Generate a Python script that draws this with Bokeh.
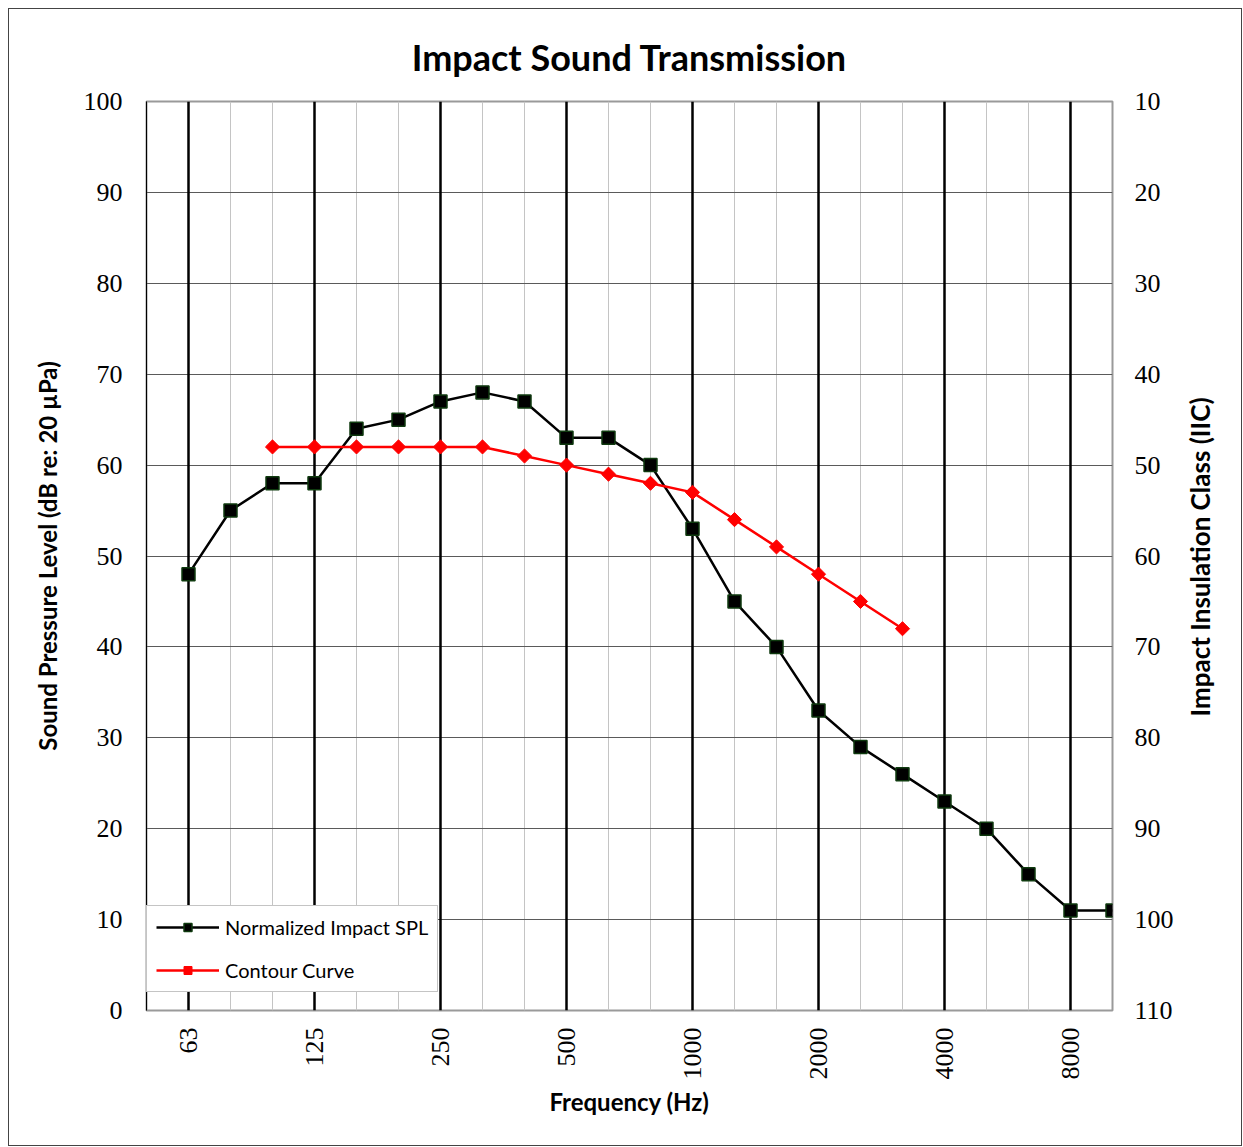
import numpy as np
from bokeh.plotting import figure
from bokeh.models import (Range1d, LinearAxis, FixedTicker, Grid, Legend, LegendItem,
                          ColumnDataSource, Label)
from bokeh.embed import file_html
from bokeh.resources import INLINE

bands = ["63", "80", "100", "125", "160", "200", "250", "315", "400", "500", "630", "800",
         "1000", "1250", "1600", "2000", "2500", "3150", "4000", "5000", "6300", "8000", "10000"]
octave_labels = ["63", "125", "250", "500", "1000", "2000", "4000", "8000"]

spl = [48, 55, 58, 58, 64, 65, 67, 68, 67, 63, 63, 60, 53, 45, 40, 33, 29, 26, 23, 20, 15, 11, 11]

contour_bands = ["100", "125", "160", "200", "250", "315", "400", "500", "630", "800",
                 "1000", "1250", "1600", "2000", "2500", "3150"]
contour = [62, 62, 62, 62, 62, 62, 61, 60, 59, 58, 57, 54, 51, 48, 45, 42]

left_ticks = [0, 10, 20, 30, 40, 50, 60, 70, 80, 90, 100]
right_ticks = [10, 20, 30, 40, 50, 60, 70, 80, 90, 100, 110]

idx = {b: i for i, b in enumerate(bands)}
src_spl = ColumnDataSource(dict(x=[idx[b] for b in bands], y=spl))
src_con = ColumnDataSource(dict(x=[idx[b] for b in contour_bands], y=contour))

W, H = 1234, 1138
MB_L, MB_R, MB_T, MB_B = 137, 131, 92, 137
x_lo, x_hi = -1, len(bands) - 1
p = figure(width=W, height=H, output_backend="svg", toolbar_location=None,
           x_range=Range1d(x_lo, x_hi), y_range=Range1d(left_ticks[0], left_ticks[-1]),
           min_border_left=MB_L, min_border_right=MB_R, min_border_top=MB_T, min_border_bottom=MB_B)
p.styles = {"margin-left": "8px", "margin-top": "8px", "border": "1px solid #444"}

p.title.text = "Impact Sound Transmission"
p.title.align = "center"
p.title.text_font = "Lato"
p.title.text_font_size = "36px"
p.title.text_font_style = "bold"
p.title.text_color = "black"
p.title.standoff = 46

p.outline_line_color = "#9a9a9a"
p.outline_line_width = 2

p.xgrid.visible = False
p.ygrid.visible = False

octave_idx = [idx[b] for b in octave_labels]
minor_idx = [i for i in range(len(bands)) if i not in octave_idx]

g1 = Grid(dimension=0, ticker=FixedTicker(ticks=minor_idx), grid_line_color="#c4c4c4", grid_line_width=1)
g2 = Grid(dimension=1, ticker=FixedTicker(ticks=left_ticks), grid_line_color="#5a5a5a", grid_line_width=1)
g3 = Grid(dimension=0, ticker=FixedTicker(ticks=octave_idx), grid_line_color="#000000", grid_line_width=2.5)
for g in (g1, g2, g3):
    p.add_layout(g)

tick_font = "Liberation Serif"
label_font = "Lato"

xa = p.xaxis[0]
xa.ticker = FixedTicker(ticks=octave_idx)
xa.major_label_overrides = {i: b for i, b in zip(octave_idx, octave_labels)}
xa.major_label_orientation = np.pi / 2
xa.major_label_text_font = tick_font
xa.major_label_text_font_size = "26px"
xa.major_label_text_color = "black"
xa.major_label_standoff = 11
xa.major_tick_line_color = None
xa.minor_tick_line_color = None
xa.axis_line_color = None
xa.axis_label = "Frequency (Hz)"
xa.axis_label_text_font = label_font
xa.axis_label_text_font_size = "24px"
xa.axis_label_text_font_style = "bold"
xa.axis_label_text_color = "black"
xa.axis_label_standoff = 4

ya = p.yaxis[0]
ya.ticker = FixedTicker(ticks=left_ticks)
ya.major_label_text_font = tick_font
ya.major_label_text_font_size = "26px"
ya.major_label_text_color = "black"
ya.major_label_standoff = 18
ya.major_tick_line_color = None
ya.minor_tick_line_color = None
ya.axis_line_color = "black"
ya.axis_line_width = 1
ya.axis_label = "Sound Pressure Level (dB re: 20 µPa)"
ya.axis_label_text_font = label_font
ya.axis_label_text_font_size = "24px"
ya.axis_label_text_font_style = "bold"
ya.axis_label_text_color = "black"
ya.axis_label_standoff = 19

p.extra_y_ranges = {"iic": Range1d(right_ticks[-1], right_ticks[0])}
ra = LinearAxis(y_range_name="iic", ticker=FixedTicker(ticks=right_ticks))
ra.major_label_text_font = tick_font
ra.major_label_text_font_size = "26px"
ra.major_label_text_color = "black"
ra.major_label_standoff = 16
ra.major_tick_line_color = None
ra.minor_tick_line_color = None
ra.axis_line_color = None
p.add_layout(ra, "right")

# right axis title (reads bottom-to-top), placed in its own side panel
frame_h = H - 2 - MB_T - MB_B
right_title = Label(x=23, y=frame_h / 2, x_units="screen", y_units="screen",
                    text="Impact Insulation Class (IIC)", angle=np.pi / 2,
                    text_align="center", text_baseline="middle",
                    text_font=label_font, text_font_size="26px", text_font_style="bold",
                    text_color="black")
p.add_layout(right_title, "right")

l1 = p.line("x", "y", source=src_spl, line_color="black", line_width=2.5)
s1 = p.scatter("x", "y", source=src_spl, marker="square", size=13,
               fill_color="black", line_color="#0f3a0f", line_width=1.5)
l2 = p.line("x", "y", source=src_con, line_color="#ff0000", line_width=2.5)
s2 = p.scatter("x", "y", source=src_con, marker="square", angle=np.pi / 4, size=10,
               fill_color="#ff0000", line_color="#ff0000", line_width=1)

legend = Legend(items=[LegendItem(label="Normalized Impact SPL", renderers=[l1, s1]),
                       LegendItem(label="Contour Curve", renderers=[l2, s2])],
                location=(0, 18))
legend.label_text_font = label_font
legend.label_text_font_size = "20px"
legend.label_text_color = "black"
legend.glyph_width = 63
legend.glyph_height = 20
legend.spacing = 19
legend.padding = 9
legend.margin = 0
legend.label_standoff = 6
legend.border_line_color = "#8a8a8a"
legend.border_line_width = 1.5
legend.background_fill_color = "white"
legend.background_fill_alpha = 1
p.add_layout(legend, "center")

open("out.html", "w").write(file_html(p, INLINE))
